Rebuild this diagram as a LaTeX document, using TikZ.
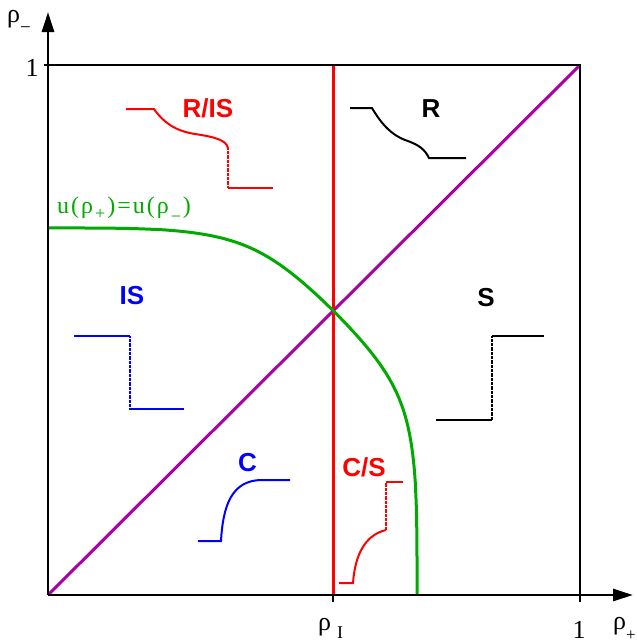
\documentclass[tikz,border=0pt]{standalone}
\usepackage{fontspec}
\setmainfont{Liberation Serif}
\newfontfamily\labfont{Liberation Sans}
\usetikzlibrary{arrows.meta}
\definecolor{cgreen}{RGB}{0,170,0}
\definecolor{cmag}{RGB}{170,0,170}
\newcommand{\gk}{\kern2pt}
\begin{document}
\begin{tikzpicture}[x=1pt,y=-1pt,
  axis/.style={line width=2.8pt},
  mainline/.style={line width=3pt},
  sk/.style={line width=2pt},
  dotline/.style={line width=1.6pt, dash pattern=on 0.7pt off 0.6pt},
  reg/.style={font=\labfont\bfseries\fontsize{26}{26}\selectfont, inner sep=0pt},
  axl/.style={font=\fontsize{26}{26}\selectfont, inner sep=0pt},
  tip/.style={-{Triangle[length=20pt,width=12pt]}}]
\useasboundingbox (0,0) rectangle (637,643);
\coordinate (O) at (48,595);
\coordinate (TL) at (48,65);
\coordinate (TR) at (580,65);
\coordinate (BR) at (580,595);
\coordinate (YA) at (48,12);
\coordinate (XA) at (633,595);
\coordinate (RT) at (333,65);
\coordinate (RB) at (333,595);
\coordinate (GB) at (417,595);
\coordinate (GL) at (48,228);
% diagonal, red line, green curve
\draw[mainline,cmag] (O) -- (TR);
\draw[mainline,red] (RT) -- (RB);
\draw[mainline,cgreen] (GB) -- plot[domain=0.01:89.99, samples=200, variable=\t]
  ({48+369*pow(cos(\t),2/(2.7+0.8*cos(2*\t)*cos(2*\t)))},
   {595-367*pow(sin(\t),2/(2.7+0.8*cos(2*\t)*cos(2*\t)))}) -- (GL);
% axes and box
\draw[axis,tip] (O) -- (YA);
\draw[axis,tip] (O) -- (XA);
\draw[axis] (TL) -- (TR) -- (BR);
\draw[axis] (44,65) -- (TL);
\draw[axis] (RB) -- (333,602);
\draw[axis] (BR) -- (580,602);
% axis labels
\node[axl] (oney) at (32,68) {1};
\node[axl] (onex) at (579,630) {1};
\node[axl,anchor=base west] (rhom) at (7,22) {ρ\raisebox{-11pt}{\fontsize{19}{19}\selectfont −}};
\node[axl,anchor=base west] (rhop) at (613,629) {ρ\raisebox{-11pt}{\fontsize{17}{17}\selectfont +}};
\node[axl,anchor=base west] (rhoi) at (318,630) {ρ\hspace{6pt}\raisebox{-8pt}{\fontsize{18}{18}\selectfont I}};
\node[font=\fontsize{24}{24}\selectfont, text=cgreen, inner sep=0pt, anchor=base west] (ulab) at (57,213) {u\gk(\gk ρ\gk\raisebox{-6pt}{\fontsize{18}{18}\selectfont +}\gk)\gk=\gk u\gk(\gk ρ\gk\raisebox{-9pt}{\fontsize{18}{18}\selectfont −}\gk)};
% region labels
\node[reg,red] (ris) at (208,108.5) {R/IS};
\node[reg] (r) at (431,109) {R};
\node[reg,blue] (is) at (132,296) {IS};
\node[reg] (s) at (486,298) {S};
\node[reg,blue] (c) at (247.5,463) {C};
\node[reg,red] (cs) at (364,467) {C/S};
% R/IS sketch
\draw[sk,red] (126,109) -- (154,109) .. controls (163,122) and (175,131) .. (195,134) .. controls (215,137) and (226,140) .. (228,148);
\draw[dotline,red] (228,148) -- (228,188);
\draw[sk,red] (228,188) -- (273,188);
% R sketch
\draw[sk] (350,108) -- (372,108) .. controls (382,125) and (392,135) .. (405,140) .. controls (420,145) and (425,150) .. (429,158) -- (466,158);
% IS sketch
\draw[sk,blue] (74,336) -- (130,336);
\draw[dotline,blue] (130,336) -- (130,409);
\draw[sk,blue] (130,409) -- (184,409);
% S sketch
\draw[sk] (436,420) -- (492,420);
\draw[dotline] (492,420) -- (492,336);
\draw[sk] (492,336) -- (544,336);
% C sketch
\draw[sk,blue] (198,541) -- (221,541) .. controls (223,505) and (232,480) .. (262,480) -- (290,480);
% C/S sketch
\draw[sk,red] (339,583) -- (353,583) .. controls (355,555) and (365,535) .. (386,530);
\draw[dotline,red] (386,530) -- (386,482);
\draw[sk,red] (386,482) -- (403,482);
\end{tikzpicture}
\end{document}
